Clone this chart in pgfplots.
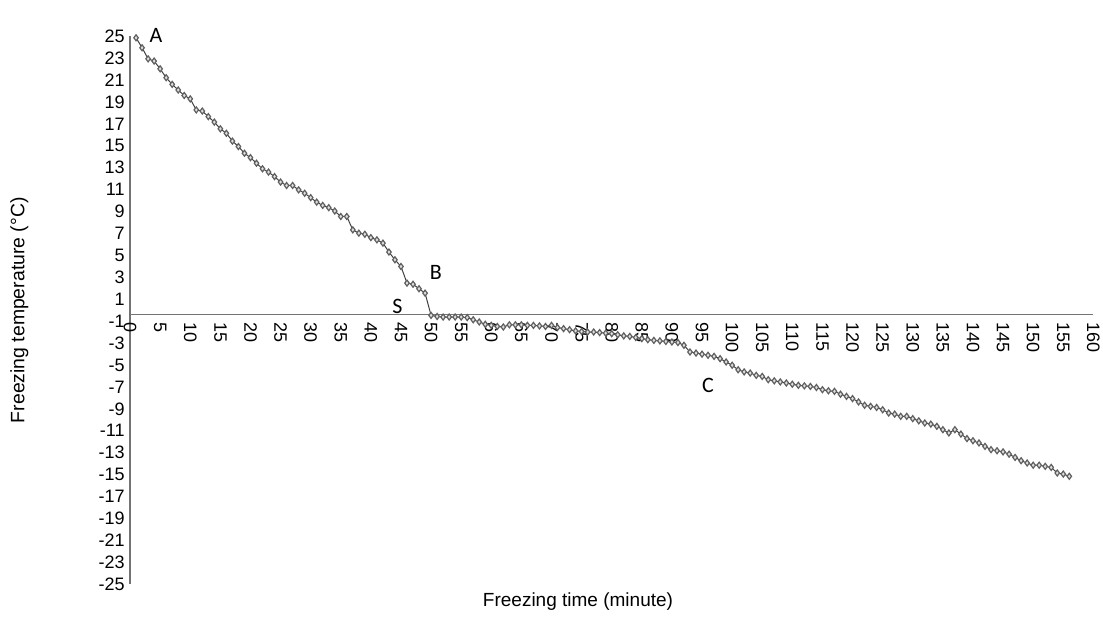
\documentclass[border=0pt]{standalone}
\usepackage{pgfplots}
\pgfplotsset{compat=1.18}
\usepackage{fontspec}
\setmainfont{Liberation Sans}
\newfontfamily\calib{Carlito}
\pgfplotstableread{
t T
1 24.85
2 23.94
3 22.93
4 22.73
5 22.02
6 21.21
7 20.60
8 20.09
9 19.59
10 19.28
11 18.27
12 18.17
13 17.66
14 17.16
15 16.55
16 16.14
17 15.43
18 14.93
19 14.32
20 13.92
21 13.41
22 12.90
23 12.60
24 12.19
25 11.69
26 11.38
27 11.38
28 10.98
29 10.67
30 10.27
31 9.86
32 9.56
33 9.36
34 9.05
35 8.55
36 8.55
37 7.33
38 7.03
39 6.93
40 6.62
41 6.42
42 6.12
43 5.31
44 4.60
45 3.99
46 2.47
47 2.37
48 1.96
49 1.56
50 -0.47
51 -0.57
52 -0.62
53 -0.62
54 -0.62
55 -0.62
56 -0.67
57 -0.87
58 -1.07
59 -1.28
60 -1.38
61 -1.48
62 -1.53
63 -1.33
64 -1.33
65 -1.33
66 -1.38
67 -1.38
68 -1.43
69 -1.48
70 -1.38
71 -1.58
72 -1.68
73 -1.78
74 -1.89
75 -1.94
76 -1.99
77 -1.99
78 -2.04
79 -2.09
80 -2.14
81 -2.24
82 -2.34
83 -2.39
84 -2.49
85 -2.59
86 -2.69
87 -2.75
88 -2.80
89 -2.85
90 -2.90
91 -2.95
92 -3.20
93 -3.81
94 -3.91
95 -4.01
96 -4.11
97 -4.21
98 -4.42
99 -4.72
100 -5.02
101 -5.43
102 -5.63
103 -5.73
104 -5.94
105 -6.04
106 -6.34
107 -6.44
108 -6.54
109 -6.64
110 -6.75
111 -6.85
112 -6.90
113 -6.95
114 -7.05
115 -7.25
116 -7.35
117 -7.40
118 -7.66
119 -7.86
120 -8.06
121 -8.37
122 -8.67
123 -8.77
124 -8.87
125 -9.08
126 -9.38
127 -9.48
128 -9.68
129 -9.68
130 -9.89
131 -10.09
132 -10.29
133 -10.39
134 -10.59
135 -10.90
136 -11.20
137 -10.90
138 -11.30
139 -11.71
140 -11.91
141 -12.11
142 -12.42
143 -12.72
144 -12.82
145 -12.92
146 -13.13
147 -13.43
148 -13.73
149 -13.94
150 -14.14
151 -14.14
152 -14.24
153 -14.34
154 -14.85
155 -14.95
156 -15.15
}\datatable
\begin{document}
\begin{tikzpicture}
\begin{axis}[
  x=3.01pt, y=5.48pt,
  xmin=0, xmax=160, ymin=-25, ymax=25,
  axis x line=middle, axis y line=left,
  x axis line style={-, draw=none},
  y axis line style={-, draw=gray!90!black, line width=0.6pt},
  xtick={0,5,...,160}, ytick={-25,-23,...,25},
  major tick length=0pt,
  hide obscured x ticks=false,
  hide obscured y ticks=false,
  /pgf/number format/assume math mode=true,
  tick label style={font=\fontsize{9}{10}\selectfont},
  xticklabel style={rotate=-90, anchor=west, inner sep=1pt, xshift=5pt},
  yticklabel style={anchor=east, inner sep=1pt, xshift=-1.5pt},
  clip=false,
]
\draw[draw=gray!90!black, line width=0.6pt] (axis cs:0,-0.37) -- (axis cs:160,-0.37);
\addplot[color=black!75, line width=0.5pt, mark=diamond*, mark size=1.5pt,
  mark options={draw=gray!75!black, fill=gray!25, line width=0.6pt}]
  table[x=t, y=T] {\datatable};
\node[font=\calib\fontsize{11}{13}\selectfont] at (axis cs:4.3,25.1) {A};
\node[font=\calib\fontsize{11}{13}\selectfont] at (axis cs:50.8,3.45) {B};
\node[font=\calib\fontsize{11}{13}\selectfont] at (axis cs:44.4,0.35) {S};
\node[font=\calib\fontsize{11}{13}\selectfont] at (axis cs:96,-6.85) {C};
\node[font=\fontsize{9.5}{11}\selectfont] at (axis cs:74.4,-26.6) {Freezing time (minute)};
\node[font=\fontsize{9.7}{11}\selectfont, rotate=90] at (axis cs:-18.4,0) {Freezing temperature (°C)};
\path (axis cs:-21.6,28.3) rectangle (axis cs:161.6,-28.7);
\end{axis}
\end{tikzpicture}
\end{document}
